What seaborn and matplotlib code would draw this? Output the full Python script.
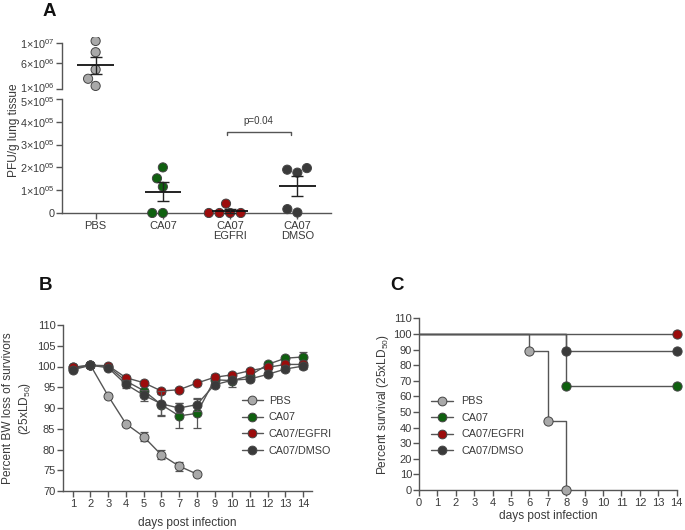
import numpy as np
import pandas as pd
import matplotlib
matplotlib.use('Agg')
import matplotlib.pyplot as plt
import matplotlib.transforms as mtrans
import seaborn as sns
from matplotlib.lines import Line2D

# ---------------- data ----------------
groups = ['PBS', 'CA07', 'CA07/EGFRI', 'CA07/DMSO']
a_labels = ['PBS', 'CA07', 'CA07\nEGFRI', 'CA07\nDMSO']
colors = ['#a9a9a9', '#0f600f', '#9c0c0c', '#3a3a3a']

pfu_pbs = [1.04e7, 8.2e6, 4.8e6, 3.0e6, 1.6e6]
pfu_ca07 = [2.0e5, 1.52e5, 1.15e5, 0.0, 0.0]
pfu_egfri = [0.41e5, 0.0, 0.0, 0.0, 0.0]
pfu_dmso = [1.90e5, 1.77e5, 1.97e5, 0.02e5, 0.17e5]

top_ticks = [1e6, 6e6, 1e7]
top_ticklabels = ['1×10$^{06}$', '6×10$^{06}$', '1×10$^{07}$']
low_ticks = [0, 1e5, 2e5, 3e5, 4e5, 5e5]
low_ticklabels = ['0', '1×10$^{05}$', '2×10$^{05}$', '3×10$^{05}$', '4×10$^{05}$', '5×10$^{05}$']

days = list(range(1, 15))
bw_pbs = [99.5, 100.3, 92.9, 86.2, 83.1, 78.7, 76.0, 74.1]
bw_pbs_err = [0.3, 0.3, 0.4, 0.5, 1.0, 1.1, 1.1, 0.4]
bw_ca07 = [99.8, 100.3, 100.0, 96.5, 94.2, 90.8, 88.1, 88.7, 96.8, 96.6, 97.8, 100.5, 102.0, 102.3]
bw_ca07_err = [0.3, 0.3, 0.3, 0.8, 1.0, 2.5, 3.0, 3.5, 1.5, 1.5, 0.8, 0.6, 0.6, 1.2]
bw_egfri = [99.8, 100.3, 100.2, 97.3, 96.1, 94.1, 94.4, 96.0, 97.4, 98.0, 99.0, 99.8, 100.5, 100.5]
bw_egfri_err = [0.3, 0.3, 0.3, 0.4, 0.4, 0.4, 0.4, 0.4, 0.4, 0.4, 0.4, 0.4, 0.4, 0.5]
bw_dmso = [99.2, 100.3, 99.7, 95.7, 93.1, 91.0, 90.0, 90.8, 95.6, 96.7, 97.0, 98.1, 99.4, 100.1]
bw_dmso_err = [0.4, 0.3, 0.4, 1.0, 1.3, 3.0, 1.3, 1.6, 0.6, 0.6, 0.5, 0.5, 0.5, 0.6]

surv_pbs_t = [0, 6, 7, 8]
surv_pbs = [100, 88.9, 44.4, 0]
surv_ca07_t = [0, 8, 14]
surv_ca07 = [100, 66.7, 66.7]
surv_egfri_t = [0, 14]
surv_egfri = [100, 100]
surv_dmso_t = [0, 8, 14]
surv_dmso = [100, 88.9, 88.9]

# ---------------- style ----------------
sns.set_style('ticks')
plt.rcParams['font.family'] = ['Liberation Sans', 'DejaVu Sans']
plt.rcParams['mathtext.fontset'] = 'custom'
plt.rcParams['mathtext.rm'] = 'Liberation Sans'
plt.rcParams['mathtext.it'] = 'Liberation Sans'
plt.rcParams['mathtext.bf'] = 'Liberation Sans:bold'

TXT = '#3a3a3a'
SP = '#555555'
LINE = '#555555'
FS = 8.0
LFS = 8.6

fig = plt.figure(figsize=(6.85, 5.30), dpi=100)
W, H = 685, 530


def ax_at(x0, y0, x1, y1):
    return fig.add_axes([x0 / W, 1 - y1 / H, (x1 - x0) / W, (y1 - y0) / H])


def style(ax, fs=FS):
    for s in ['top', 'right']:
        ax.spines[s].set_visible(False)
    for s in ['left', 'bottom']:
        ax.spines[s].set_color(SP)
        ax.spines[s].set_linewidth(1.0)
    ax.tick_params(colors=SP, labelcolor=TXT, labelsize=fs, length=4, width=1.0, pad=1.5)
    ax.set_facecolor('none')


# ---------------- panel A ----------------
top_px = 46 / 9e6
ax_top = ax_at(62, 43 - 1.2e6 * top_px, 331, 89 + 0.3e6 * top_px)
low_px = 114 / 5e5
ax_low = ax_at(62, 99 - 0.1e5 * low_px, 331, 213 + 0.2e5 * low_px)

long_df = pd.DataFrame({
    'group': np.repeat(groups, 5),
    'pfu': pfu_pbs + pfu_ca07 + pfu_egfri + pfu_dmso,
})
top_df = long_df[long_df['group'] == 'PBS']
low_df = long_df[long_df['group'] != 'PBS']
pal = dict(zip(groups, colors))

ax_top.set_ylim(1e6 - 0.3e6, 1e7 + 1.2e6)
ax_low.set_ylim(-0.2e5, 5e5 + 0.1e5)

sns.swarmplot(data=top_df, x='group', y='pfu', hue='group', order=groups, hue_order=groups,
              palette=pal, size=6.6, edgecolor='#444444', linewidth=0.7, ax=ax_top, legend=False,
              zorder=3)
sns.swarmplot(data=low_df, x='group', y='pfu', hue='group', order=groups, hue_order=groups,
              palette=pal, size=6.6, edgecolor='#444444', linewidth=0.7, ax=ax_low, legend=False,
              zorder=3)

for ax, sub in [(ax_top, top_df), (ax_low, low_df)]:
    for i, g in enumerate(groups):
        vals = np.array(sub.loc[sub['group'] == g, 'pfu'])
        if len(vals) == 0:
            continue
        m = vals.mean()
        se = vals.std(ddof=1) / np.sqrt(len(vals))
        ax.hlines(m, i - 0.27, i + 0.27, color='#111111', lw=1.3, zorder=4)
        ax.errorbar(i, m, yerr=se, fmt='none', ecolor='#222222', elinewidth=1.0,
                    capsize=4.5, capthick=1.0, zorder=4)

for ax in (ax_top, ax_low):
    style(ax, fs=7.8)
    ax.set_xlim(-0.5, 3.5)
    ax.set_xlabel('')
    ax.set_ylabel('')
ax_low.tick_params(axis='x', labelsize=8.0)

ax_top.set_ylim(1e6 - 0.3e6, 1e7 + 1.2e6)
ax_top.spines['left'].set_bounds(1e6, 1e7)
ax_top.set_yticks(top_ticks)
ax_top.set_yticklabels(top_ticklabels)
ax_top.spines['bottom'].set_visible(False)
ax_top.set_xticks([])

ax_low.set_ylim(-0.2e5, 5e5 + 0.1e5)
ax_low.spines['left'].set_bounds(0, 5e5)
ax_low.spines['bottom'].set_position(('data', 0))
ax_low.set_yticks(low_ticks)
ax_low.set_yticklabels(low_ticklabels)
ax_low.set_xticks(range(4))
ax_low.set_xticklabels(a_labels, linespacing=1.05)

# nudge the two labels at the axis break apart slightly
lab_top = ax_top.get_yticklabels()[0]
lab_top.set_transform(lab_top.get_transform() + mtrans.ScaledTranslation(0, 1.5 / 72, fig.dpi_scale_trans))
lab_low = ax_low.get_yticklabels()[-1]
lab_low.set_transform(lab_low.get_transform() + mtrans.ScaledTranslation(0, -1.5 / 72, fig.dpi_scale_trans))

# significance bracket
ax_low.plot([1.95, 1.95, 2.9, 2.9], [3.42e5, 3.55e5, 3.55e5, 3.42e5], color='#555555', lw=1.0)
ax_low.text(2.42, 3.8e5, 'p=0.04', ha='center', va='bottom', fontsize=7, color=TXT)

fig.text(14 / W, 1 - 130 / H, 'PFU/g lung tissue', rotation=90, ha='center', va='center',
         fontsize=LFS, color=TXT)
fig.text(49 / W, 1 - 11 / H, 'A', fontsize=13.5, fontweight='bold', ha='center', va='center',
         color='#111111')

# ---------------- panel B ----------------
axB = ax_at(63, 325, 312, 491)
series_b = [
    (bw_pbs, bw_pbs_err, colors[0], groups[0]),
    (bw_ca07, bw_ca07_err, colors[1], groups[1]),
    (bw_egfri, bw_egfri_err, colors[2], groups[2]),
    (bw_dmso, bw_dmso_err, colors[3], groups[3]),
]
for k, (vals, err, c, name) in enumerate(series_b):
    d = days[:len(vals)]
    axB.errorbar(d, vals, yerr=err, fmt='none', ecolor='#555555', elinewidth=0.9,
                 capsize=3, capthick=0.9, zorder=2 + k)
    sns.lineplot(x=d, y=vals, color=LINE, lw=1.0, ax=axB, zorder=2 + k, legend=False)
    sns.scatterplot(x=d, y=vals, color=c, s=42, edgecolor='#444444', linewidth=0.7, ax=axB,
                    zorder=2.5 + k, legend=False)
style(axB)
axB.set_xlim(0.45, 14.5)
axB.set_ylim(70, 110)
axB.set_xticks(days)
axB.set_yticks(range(70, 111, 5))
axB.set_xlabel('days post infection', fontsize=LFS, color=TXT, labelpad=6)
axB.set_ylabel('Percent BW loss of survivors\n(25xLD$_{50}$)', fontsize=LFS, color=TXT,
               labelpad=3, linespacing=1.2)

handles = [Line2D([0], [0], color=LINE, lw=1.0, marker='o', markersize=6.3,
                  markerfacecolor=c, markeredgecolor='#444444', markeredgewidth=0.7)
           for c in colors]
axB.legend(handles, groups, loc='upper left', bbox_to_anchor=(0.70, 0.60), frameon=False,
           fontsize=7.8, labelcolor=TXT, handlelength=2.0, handletextpad=0.5,
           labelspacing=0.62, borderaxespad=0)
fig.text(45 / W, 1 - 285 / H, 'B', fontsize=13.5, fontweight='bold', ha='center', va='center',
         color='#111111')

# ---------------- panel C ----------------
axC = ax_at(419, 318.3, 676.7, 490)
series_c = [
    (surv_pbs_t, surv_pbs, colors[0]),
    (surv_ca07_t, surv_ca07, colors[1]),
    (surv_egfri_t, surv_egfri, colors[2]),
    (surv_dmso_t, surv_dmso, colors[3]),
]
for k, (t, s, c) in enumerate(series_c):
    sns.lineplot(x=t, y=s, color=LINE, lw=1.0, drawstyle='steps-post', ax=axC,
                 zorder=2, legend=False)
for k, (t, s, c) in enumerate(series_c):
    sns.scatterplot(x=t[1:], y=s[1:], color=c, s=44, edgecolor='#444444', linewidth=0.7,
                    ax=axC, zorder=3 + k, legend=False, clip_on=False)
style(axC)
axC.set_xlim(0, 14)
axC.set_ylim(0, 110)
axC.set_xticks(range(0, 15))
axC.set_yticks(range(0, 111, 10))
axC.tick_params(axis='y', pad=1)
axC.set_xlabel('days post infection', fontsize=LFS, color=TXT, labelpad=2)
axC.set_ylabel('Percent survival (25xLD$_{50}$)', fontsize=LFS, color=TXT, labelpad=2)
axC.legend(handles, groups, loc='upper left', bbox_to_anchor=(0.03, 0.57), frameon=False,
           fontsize=7.8, labelcolor=TXT, handlelength=2.0, handletextpad=0.8,
           labelspacing=0.6, borderaxespad=0)
fig.text(397 / W, 1 - 285 / H, 'C', fontsize=13.5, fontweight='bold', ha='center', va='center',
         color='#111111')

fig.savefig('out.png', dpi=100, facecolor='white')
